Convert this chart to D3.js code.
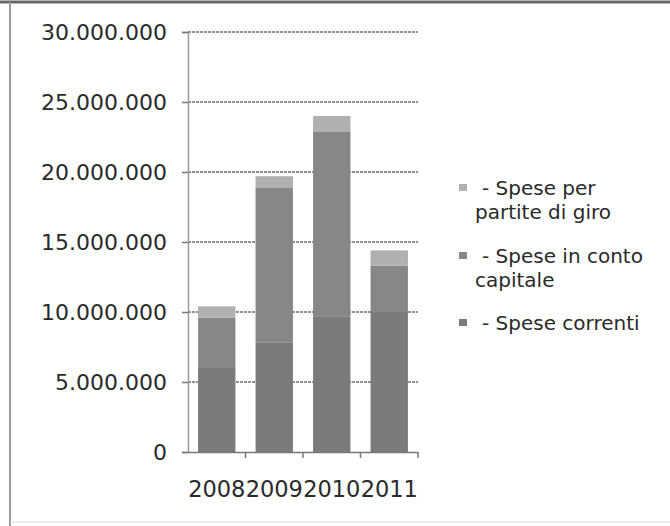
<!DOCTYPE html>
<html>
<head>
<meta charset="utf-8">
<script src="https://cdn.jsdelivr.net/npm/d3@7"></script>
<style>
  body { margin: 0; background: #fff; }
  svg { display: block; }
  text { font-family: "DejaVu Sans", Verdana, sans-serif; fill: #2a2a2a; }
</style>
</head>
<body>
<div id="chart"></div>
<script>
// Spese per anno, valori stimati dal grafico
const years = ['2008', '2009', '2010', '2011'];
const speseCorrenti = [6000000, 7800000, 9700000, 10000000];
const speseCapitale = [3600000, 11100000, 13200000, 3300000];
const spesePartite = [800000, 800000, 1100000, 1100000];
const yTicks = [0, 5000000, 10000000, 15000000, 20000000, 25000000, 30000000];
const legendLines = [['- Spese per', 'partite di giro'], ['- Spese in conto', 'capitale'], ['- Spese correnti']];

;(function () {
  const width = 670, height = 526;
  const colors = ['#7b7b7b', '#878787', '#b0b0b0'];

  const svg = d3.select('#chart').append('svg')
    .attr('width', width)
    .attr('height', height);

  // frame of the scan
  svg.append('line')
    .attr('x1', 0).attr('x2', width).attr('y1', 2).attr('y2', 2)
    .attr('stroke', '#666').attr('stroke-width', 3);
  svg.append('line')
    .attr('x1', 10).attr('x2', 10).attr('y1', 2).attr('y2', height)
    .attr('stroke', '#999').attr('stroke-width', 2);
  svg.append('line')
    .attr('x1', 10).attr('x2', width).attr('y1', 522).attr('y2', 522)
    .attr('stroke', '#ddd').attr('stroke-width', 1);

  const x = d3.scaleBand()
    .domain(years)
    .range([188, 418])
    .paddingInner(0.35)
    .paddingOuter(0.175);
  const y = d3.scaleLinear()
    .domain([0, 30000000])
    .range([452, 32]);

  const fmt = d => d3.format(',')(d).replace(/,/g, '.');

  // gridlines
  svg.append('g')
    .selectAll('line')
    .data(yTicks.slice(1))
    .enter().append('line')
      .attr('x1', 188).attr('x2', 418)
      .attr('y1', d => y(d)).attr('y2', d => y(d))
      .attr('stroke', '#6e6e6e')
      .attr('stroke-width', 1.6)
      .attr('stroke-dasharray', '3 1');

  // stacked bars
  const table = years.map((yr, i) => ({
    year: yr, a: speseCorrenti[i], b: speseCapitale[i], c: spesePartite[i]
  }));
  const stacked = d3.stack().keys(['a', 'b', 'c'])(table);

  svg.append('g')
    .selectAll('g')
    .data(stacked)
    .enter().append('g')
      .attr('fill', (d, i) => colors[i])
    .selectAll('rect')
    .data(d => d)
    .enter().append('rect')
      .attr('x', d => x(d.data.year))
      .attr('width', x.bandwidth())
      .attr('y', d => y(d[1]))
      .attr('height', d => y(d[0]) - y(d[1]));

  // y axis
  const yAxis = svg.append('g')
    .attr('transform', 'translate(188,0)')
    .call(d3.axisLeft(y).tickValues(yTicks).tickFormat(fmt).tickSize(6).tickPadding(15));
  yAxis.select('.domain').attr('stroke', '#999').attr('stroke-width', 1.5);
  yAxis.selectAll('.tick line').attr('stroke', '#777').attr('stroke-width', 1.5);
  yAxis.selectAll('.tick text')
    .attr('font-size', 22)
    .attr('font-family', '"DejaVu Sans", Verdana, sans-serif')
    .attr('fill', '#2a2a2a');

  // x axis
  const xAxis = svg.append('g')
    .attr('transform', 'translate(0,452)')
    .call(d3.axisBottom(x).tickSize(0).tickPadding(29));
  xAxis.select('.domain').attr('stroke', '#777').attr('stroke-width', 1.5);
  xAxis.selectAll('.tick text')
    .attr('font-size', 22.5)
    .attr('font-family', '"DejaVu Sans", Verdana, sans-serif')
    .attr('fill', '#2a2a2a');
  svg.append('g')
    .selectAll('line')
    .data(years)
    .enter().append('line')
      .attr('x1', d => x(d) + x.bandwidth() + x.step() * 0.175)
      .attr('x2', d => x(d) + x.bandwidth() + x.step() * 0.175)
      .attr('y1', 452).attr('y2', 458)
      .attr('stroke', '#777').attr('stroke-width', 1.5);

  // legend
  const legendTop = [195, 263, 330];
  const legend = svg.append('g')
    .selectAll('g')
    .data(legendLines)
    .enter().append('g');
  legend.append('rect')
    .attr('x', 459)
    .attr('y', (d, i) => legendTop[i] - 11)
    .attr('width', 8).attr('height', 7)
    .attr('fill', (d, i) => colors[2 - i]);
  legend.append('text')
    .attr('font-size', 20)
    .attr('y', (d, i) => legendTop[i])
    .selectAll('tspan')
    .data(d => d)
    .enter().append('tspan')
      .attr('x', (d, j) => j === 0 ? 482 : 475)
      .attr('dy', (d, j) => j === 0 ? 0 : 24)
      .text(d => d);
})();
</script>
</body>
</html>
